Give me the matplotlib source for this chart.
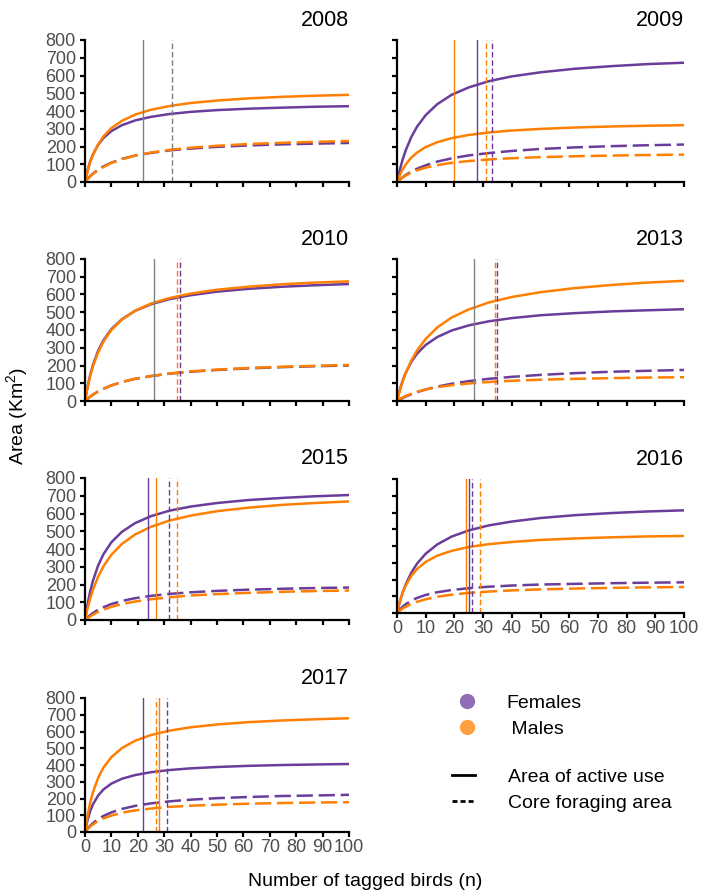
import matplotlib.pyplot as plt
from matplotlib.lines import Line2D

plt.rcParams['font.family'] = ['Liberation Sans', 'DejaVu Sans']
plt.rcParams['mathtext.default'] = 'regular'

# number of tagged birds at which the curves were read
n_birds = [0, 1, 2, 3, 5, 7, 10, 14, 19, 25, 32, 40, 50, 62, 75, 87, 100]

fem_active_2008 = [0, 67, 117, 155, 210, 248, 287, 320, 347, 367, 383, 395, 405, 413, 419, 424, 427]
mal_active_2008 = [0, 63, 113, 153, 213, 257, 304, 345, 380, 407, 428, 445, 459, 471, 480, 486, 491]
fem_core_2008 = [0, 18, 34, 47, 70, 88, 109, 130, 149, 164, 178, 188, 198, 206, 212, 216, 220]
mal_core_2008 = [0, 17, 32, 45, 67, 85, 107, 129, 149, 166, 181, 193, 204, 214, 221, 226, 231]

fem_active_2009 = [0, 70, 128, 177, 254, 312, 377, 438, 491, 533, 568, 595, 618, 638, 653, 664, 672]
mal_active_2009 = [0, 40, 72, 98, 138, 166, 197, 224, 247, 265, 279, 290, 299, 307, 313, 317, 320]
fem_core_2009 = [0, 14, 27, 39, 59, 75, 94, 115, 133, 150, 163, 175, 186, 195, 202, 207, 211]
mal_core_2009 = [0, 14, 26, 36, 53, 66, 81, 95, 108, 118, 127, 134, 140, 145, 149, 152, 154]

fem_active_2010 = [0, 83, 149, 203, 284, 342, 405, 461, 508, 545, 574, 596, 616, 632, 644, 652, 659]
mal_active_2010 = [0, 79, 142, 195, 275, 335, 400, 459, 509, 549, 580, 605, 627, 644, 658, 667, 674]
fem_core_2010 = [0, 13, 25, 36, 54, 69, 88, 107, 125, 140, 154, 165, 175, 184, 191, 196, 200]
mal_core_2010 = [0, 13, 25, 36, 54, 69, 88, 107, 125, 141, 155, 167, 177, 186, 193, 198, 203]

fem_active_2013 = [0, 65, 116, 157, 221, 267, 316, 360, 397, 426, 449, 467, 483, 495, 505, 511, 517]
mal_active_2013 = [0, 60, 111, 156, 228, 285, 350, 414, 470, 516, 555, 586, 613, 636, 654, 667, 677]
fem_core_2013 = [0, 9, 17, 25, 38, 50, 65, 81, 97, 112, 125, 136, 147, 157, 165, 170, 175]
mal_core_2013 = [0, 11, 20, 28, 41, 52, 65, 78, 89, 99, 107, 114, 120, 125, 129, 132, 134]

fem_active_2015 = [0, 92, 163, 221, 308, 371, 438, 497, 546, 585, 616, 639, 659, 676, 688, 697, 704]
mal_active_2015 = [0, 67, 123, 170, 245, 303, 368, 429, 482, 525, 560, 588, 613, 633, 649, 659, 668]
fem_core_2015 = [0, 15, 28, 39, 58, 72, 90, 107, 123, 136, 147, 156, 164, 171, 176, 180, 183]
mal_core_2015 = [0, 11, 21, 30, 46, 58, 74, 90, 104, 117, 128, 138, 146, 153, 159, 163, 166]

fem_active_2016 = [0, 68, 123, 169, 241, 295, 354, 409, 456, 493, 523, 546, 567, 584, 597, 606, 613]
mal_active_2016 = [0, 70, 122, 163, 222, 263, 305, 342, 371, 394, 411, 424, 436, 445, 452, 457, 460]
fem_core_2016 = [0, 21, 38, 52, 74, 90, 108, 124, 137, 148, 157, 164, 170, 174, 178, 181, 183]
mal_core_2016 = [0, 14, 27, 37, 54, 67, 82, 97, 109, 120, 128, 135, 141, 146, 150, 153, 155]

fem_active_2017 = [0, 74, 126, 165, 218, 254, 289, 318, 340, 357, 370, 380, 388, 395, 400, 403, 406]
mal_active_2017 = [0, 101, 178, 237, 324, 385, 447, 501, 545, 579, 605, 625, 642, 656, 666, 673, 679]
fem_core_2017 = [0, 20, 38, 53, 77, 96, 117, 138, 156, 171, 183, 193, 202, 209, 215, 218, 222]
mal_core_2017 = [0, 18, 33, 45, 66, 81, 98, 115, 129, 140, 150, 157, 163, 169, 173, 176, 178]

years = [2008, 2009, 2010, 2013, 2015, 2016, 2017]
# birds needed (vertical lines); grey when both sexes share the value
fem_active_n = [22, 28, 26, 27, 24, 25, 22]
mal_active_n = [22, 20, 26, 27, 27, 24, 28]
fem_core_n = [33, 33, 36, 35, 32, 26, 31]
mal_core_n = [33, 31, 35, 34, 35, 29, 27]

curves = {
    2008: (fem_active_2008, mal_active_2008, fem_core_2008, mal_core_2008),
    2009: (fem_active_2009, mal_active_2009, fem_core_2009, mal_core_2009),
    2010: (fem_active_2010, mal_active_2010, fem_core_2010, mal_core_2010),
    2013: (fem_active_2013, mal_active_2013, fem_core_2013, mal_core_2013),
    2015: (fem_active_2015, mal_active_2015, fem_core_2015, mal_core_2015),
    2016: (fem_active_2016, mal_active_2016, fem_core_2016, mal_core_2016),
    2017: (fem_active_2017, mal_active_2017, fem_core_2017, mal_core_2017),
}

PURPLE = '#6a3d9a'
ORANGE = '#ff7f00'
GREY = '#808080'
TICKGREY = '#4d4d4d'

W, H = 701, 894
fig = plt.figure(figsize=(W / 100, H / 100), dpi=100)

# panel boxes in pixels: left, top, right, bottom
boxes = [(85, 40, 349, 182), (397, 40, 684, 182),
         (85, 259, 349, 401), (397, 259, 684, 401),
         (85, 478, 349, 620), (397, 479, 684, 613),
         (85, 698, 349, 832)]
show_y = [True, False, True, False, True, False, True]
show_x = [False, False, False, False, False, True, True]

core_dash = (6.5, 2.3)
vdash = (4, 2)
lw = 1.8

for i, yr in enumerate(years):
    l, t, r, b = boxes[i]
    ax = fig.add_axes([l / W, 1 - b / H, (r - l) / W, (b - t) / H])
    fa, ma, fc, mc = curves[yr]

    ax.plot(n_birds, fa, color=PURPLE, lw=lw)
    ax.plot(n_birds, fc, color=PURPLE, lw=lw, dashes=core_dash)
    ax.plot(n_birds, ma, color=ORANGE, lw=lw)
    ax.plot(n_birds, mc, color=ORANGE, lw=lw, dashes=core_dash)

    if fem_active_n[i] == mal_active_n[i]:
        ax.axvline(fem_active_n[i], color=GREY, lw=1.0)
    else:
        ax.axvline(fem_active_n[i], color=PURPLE, lw=1.0)
        ax.axvline(mal_active_n[i], color=ORANGE, lw=1.0)
    if fem_core_n[i] == mal_core_n[i]:
        ax.axvline(fem_core_n[i], color=GREY, lw=1.0, dashes=vdash)
    else:
        ax.axvline(fem_core_n[i], color=PURPLE, lw=1.0, dashes=vdash)
        ax.axvline(mal_core_n[i], color=ORANGE, lw=1.0, dashes=vdash)

    ax.set_xlim(0, 100)
    ax.set_ylim(0, 800)
    ax.set_xticks(range(0, 101, 10))
    ax.set_yticks(range(0, 801, 100))
    ax.tick_params(length=3.5, width=1.6, color='black', labelcolor=TICKGREY,
                   labelsize=13)
    ax.tick_params(axis='x', pad=1.5, labelbottom=show_x[i])
    ax.tick_params(axis='y', pad=3.0, labelleft=show_y[i])
    for s in ['top', 'right']:
        ax.spines[s].set_visible(False)
    for s in ['left', 'bottom']:
        ax.spines[s].set_linewidth(1.6)
    ax.set_title(str(yr), loc='right', fontsize=15.5, pad=10)

fig.text(17 / W, 1 - 416 / H, 'Area (Km$^2$)', rotation=90,
         ha='center', va='center', fontsize=14)
fig.text(365 / W, 1 - 882 / H, 'Number of tagged birds (n)',
         ha='center', va='center', fontsize=14)

sex_handles = [
    Line2D([], [], ls='none', marker='o', ms=11, mfc=PURPLE, mec='none', alpha=0.75),
    Line2D([], [], ls='none', marker='o', ms=11, mfc=ORANGE, mec='none', alpha=0.75),
]
fig.legend(sex_handles, ['Females', ' Males'], loc='center left',
           bbox_to_anchor=(452 / W, 1 - 716 / H), frameon=False, fontsize=14,
           handlelength=1.5, handletextpad=1.3, labelspacing=0.4,
           borderpad=0, borderaxespad=0)

area_handles = [
    Line2D([], [], color='black', lw=2),
    Line2D([], [], color='black', lw=2, dashes=(1.8, 1.1)),
]
fig.legend(area_handles, ['Area of active use', 'Core foraging area'],
           loc='center left', bbox_to_anchor=(452 / W, 1 - 790 / H),
           frameon=False, fontsize=14, handlelength=1.2, handletextpad=1.7,
           labelspacing=0.4, borderpad=0, borderaxespad=0)

fig.savefig('out.png', dpi=100)
